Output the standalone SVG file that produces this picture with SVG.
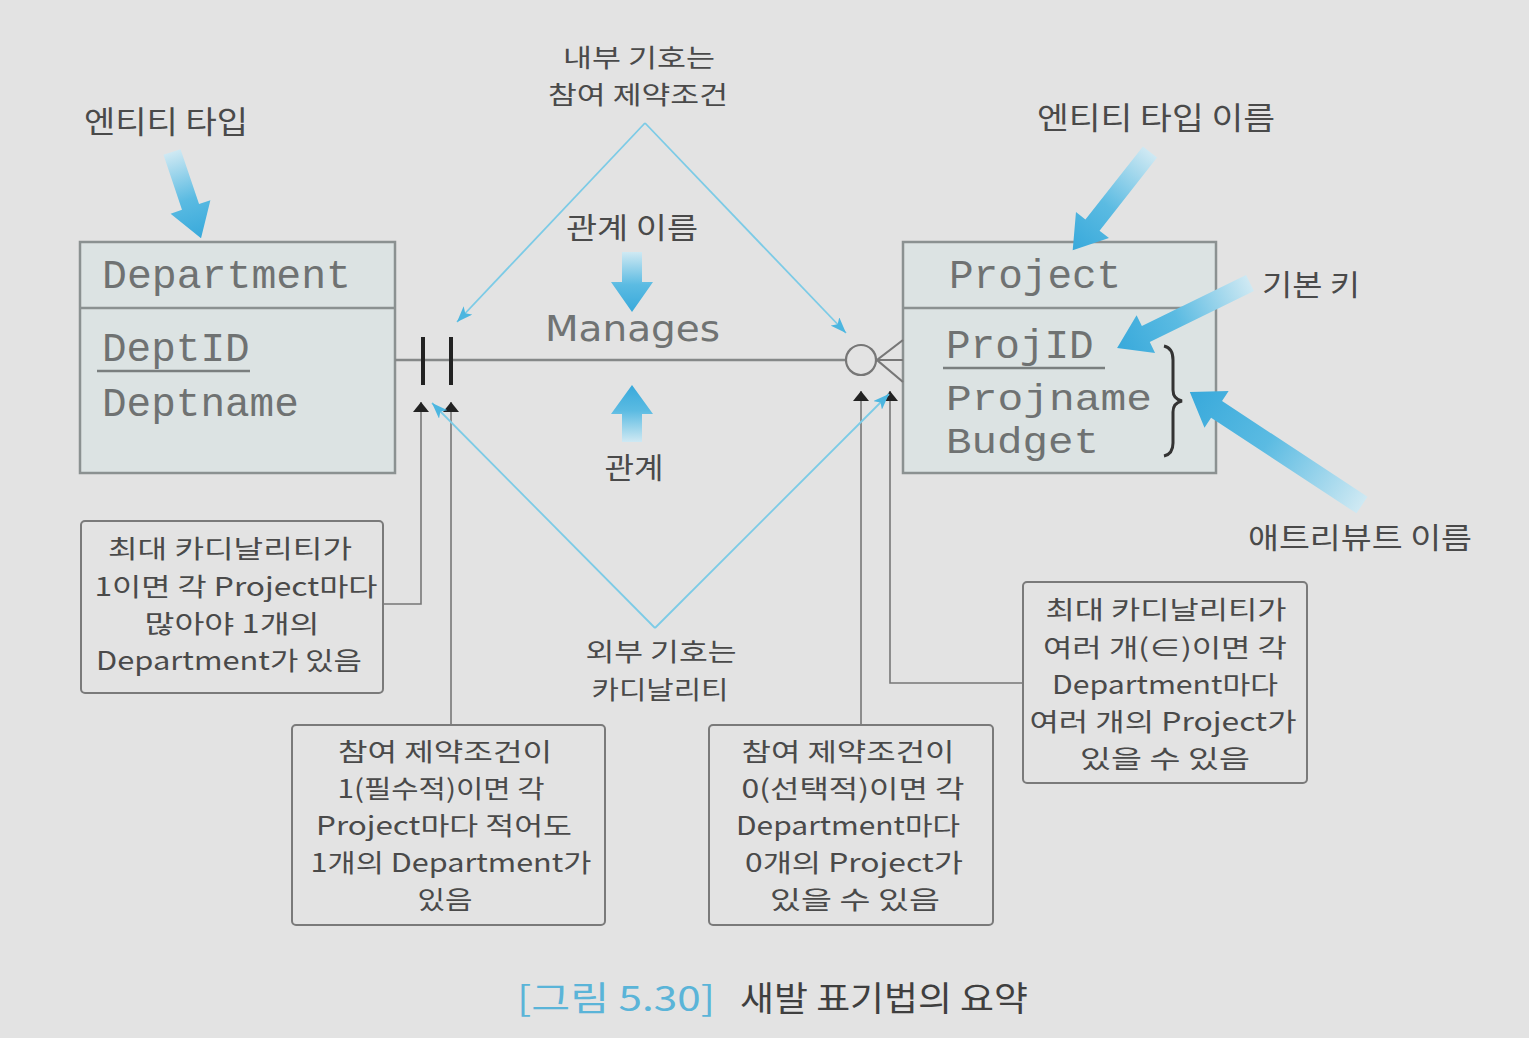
<svg xmlns="http://www.w3.org/2000/svg" width="1529" height="1038" viewBox="0 0 1529 1038">
<style>
.ko{font-family:"Noto Sans CJK KR","Noto Sans",sans-serif;fill:#4a4a4a;font-size:29px;text-anchor:middle}
.nt{font-size:25.5px}
.mono{font-family:"Liberation Mono","DejaVu Sans Mono",monospace;fill:#6f7272;font-size:41px}
.ent{fill:#dce3e3;stroke:#8b9191;stroke-width:2.5}
.note{fill:none;stroke:#7a7a7a;stroke-width:2}
.conn{fill:none;stroke:#777;stroke-width:1.6}
.blue{fill:none;stroke:#7ccbe6;stroke-width:1.8}
.big{fill:url(#g)}
</style>
<defs>
<linearGradient id="g" x1="0" y1="0" x2="1" y2="0">
<stop offset="0" stop-color="#cfe9f3"/>
<stop offset="0.55" stop-color="#5bbbe2"/>
<stop offset="1" stop-color="#38a9db"/>
</linearGradient>
<marker id="ab" viewBox="0 0 10 16" refX="10" refY="8" markerWidth="10" markerHeight="16" markerUnits="userSpaceOnUse" orient="auto">
<path d="M0,0 L10,8 L0,16 Z" fill="#222"/>
</marker>
<marker id="bl" viewBox="0 0 16 12" refX="16" refY="6" markerWidth="16" markerHeight="12" markerUnits="userSpaceOnUse" orient="auto">
<path d="M0,0 L16,6 L0,12 L4,6 Z" fill="#4cb6e0"/>
</marker>
</defs>
<rect x="0" y="0" width="1529" height="1038" fill="#e3e3e3"/>

<g id="department">
<rect class="ent" x="80" y="242" width="315" height="231"/>
<line x1="80" y1="308" x2="395" y2="308" stroke="#8b9191" stroke-width="2.5"/>
<text class="mono" x="102" y="288" textLength="249" lengthAdjust="spacingAndGlyphs">Department</text>
<text class="mono" x="102" y="361">DeptID</text>
<line x1="97" y1="371" x2="250" y2="371" stroke="#7a7f7f" stroke-width="2.5"/>
<text class="mono" x="102" y="416">Deptname</text>
</g>

<g id="project">
<rect class="ent" x="903" y="242" width="313" height="231"/>
<line x1="903" y1="308" x2="1216" y2="308" stroke="#8b9191" stroke-width="2.5"/>
<text class="mono" x="949" y="288">Project</text>
<text class="mono" x="946" y="358">ProjID</text>
<line x1="943" y1="368" x2="1105" y2="368" stroke="#7a7f7f" stroke-width="2.5"/>
<text class="mono" x="946" y="410" textLength="206" lengthAdjust="spacingAndGlyphs" style="font-size:37px">Projname</text>
<text class="mono" x="946" y="453" textLength="153" lengthAdjust="spacingAndGlyphs" style="font-size:37px">Budget</text>
<path d="M1164,346 Q1173,348 1173,360 L1173,390 Q1173,399 1182,401 Q1173,403 1173,412 L1173,443 Q1173,454 1164,456" fill="none" stroke="#333" stroke-width="3"/>
</g>

<g id="relationship">
<text x="545" y="341" textLength="175" lengthAdjust="spacingAndGlyphs" style="font-family:'DejaVu Sans',sans-serif;font-size:36px;fill:#707373">Manages</text>
</g>

<g id="connectors">
<line x1="395" y1="360" x2="846" y2="360" stroke="#858888" stroke-width="2.5"/>
<line x1="423" y1="337" x2="423" y2="385" stroke="#222" stroke-width="4"/>
<line x1="451" y1="337" x2="451" y2="385" stroke="#222" stroke-width="4"/>
<circle cx="861" cy="360" r="15" fill="none" stroke="#777" stroke-width="2.2"/>
<path d="M903,340 L877,360 L903,382 M877,360 L903,360" fill="none" stroke="#777" stroke-width="2.2"/>

<path class="conn" d="M383,604 L421,604 L421,402" marker-end="url(#ab)"/>
<path class="conn" d="M451,725 L451,402" marker-end="url(#ab)"/>
<path class="conn" d="M861,725 L861,391" marker-end="url(#ab)"/>
<path class="conn" d="M1023,683 L890,683 L890,391" marker-end="url(#ab)"/>

<path class="blue" d="M645,123 L457,322" marker-end="url(#bl)"/>
<path class="blue" d="M645,123 L846,333" marker-end="url(#bl)"/>
<path class="blue" d="M655,628 L432,403" marker-end="url(#bl)"/>
<path class="blue" d="M655,628 L889,394" marker-end="url(#bl)"/>

<polygon class="big" transform="translate(172,152) rotate(71.4)" points="0,-9 58,-9 58,-21 91,0 58,21 58,9 0,9"/>
<polygon class="big" transform="translate(1150,152) rotate(128.2)" points="0,-9 93,-9 93,-21 125,0 93,21 93,9 0,9"/>
<polygon class="big" transform="translate(1250,283) rotate(153.9)" points="0,-9 116,-9 116,-21 148,0 116,21 116,9 0,9"/>
<polygon class="big" transform="translate(1362,505) rotate(213.3)" points="0,-10 174,-10 174,-22 206,0 174,22 174,10 0,10"/>
<polygon class="big" transform="translate(632,252) rotate(90)" points="0,-10 30,-10 30,-21 60,0 30,21 30,10 0,10"/>
<polygon class="big" transform="translate(632,442) rotate(-90)" points="0,-10 28,-10 28,-21 57,0 28,21 28,10 0,10"/>
</g>

<g id="labels">
<text class="ko" x="166" y="133" textLength="164" lengthAdjust="spacingAndGlyphs" style="font-size:31px">엔티티 타입</text>
<text class="ko nt" x="639" y="67" textLength="152" lengthAdjust="spacingAndGlyphs">내부 기호는</text>
<text class="ko nt" x="638" y="104" textLength="180" lengthAdjust="spacingAndGlyphs">참여 제약조건</text>
<text class="ko" x="1156" y="129" textLength="238" lengthAdjust="spacingAndGlyphs" style="font-size:31px">엔티티 타입 이름</text>
<text class="ko" x="632" y="239" textLength="132" lengthAdjust="spacingAndGlyphs">관계 이름</text>
<text class="ko" x="634" y="479" textLength="59" lengthAdjust="spacingAndGlyphs">관계</text>
<text class="ko" x="1311" y="296" textLength="98" lengthAdjust="spacingAndGlyphs">기본 키</text>
<text class="ko" x="1360" y="549" textLength="224" lengthAdjust="spacingAndGlyphs">애트리뷰트 이름</text>
<text class="ko nt" x="661" y="661" textLength="151" lengthAdjust="spacingAndGlyphs">외부 기호는</text>
<text class="ko nt" x="660" y="699" textLength="137" lengthAdjust="spacingAndGlyphs">카디날리티</text>
</g>

<g id="note1">
<rect class="note" x="81" y="521" width="302" height="172" rx="4"/>
<text class="ko nt" x="230" y="558" textLength="244" lengthAdjust="spacingAndGlyphs">최대 카디날리티가</text>
<text class="ko nt" x="236" y="596" textLength="283" lengthAdjust="spacingAndGlyphs">1이면 각 Project마다</text>
<text class="ko nt" x="232" y="633" textLength="175" lengthAdjust="spacingAndGlyphs">많아야 1개의</text>
<text class="ko nt" x="229" y="670" textLength="266" lengthAdjust="spacingAndGlyphs">Department가 있음</text>
</g>

<g id="note2">
<rect class="note" x="292" y="725" width="313" height="200" rx="4"/>
<text class="ko nt" x="445" y="761" textLength="214" lengthAdjust="spacingAndGlyphs">참여 제약조건이</text>
<text class="ko nt" x="441" y="798" textLength="207" lengthAdjust="spacingAndGlyphs">1(필수적)이면 각</text>
<text class="ko nt" x="444" y="835" textLength="256" lengthAdjust="spacingAndGlyphs">Project마다 적어도</text>
<text class="ko nt" x="451" y="872" textLength="281" lengthAdjust="spacingAndGlyphs">1개의 Department가</text>
<text class="ko nt" x="445" y="909" textLength="55" lengthAdjust="spacingAndGlyphs">있음</text>
</g>

<g id="note3">
<rect class="note" x="709" y="725" width="284" height="200" rx="4"/>
<text class="ko nt" x="848" y="761" textLength="213" lengthAdjust="spacingAndGlyphs">참여 제약조건이</text>
<text class="ko nt" x="853" y="798" textLength="223" lengthAdjust="spacingAndGlyphs">0(선택적)이면 각</text>
<text class="ko nt" x="848" y="835" textLength="224" lengthAdjust="spacingAndGlyphs">Department마다</text>
<text class="ko nt" x="854" y="872" textLength="218" lengthAdjust="spacingAndGlyphs">0개의 Project가</text>
<text class="ko nt" x="855" y="909" textLength="170" lengthAdjust="spacingAndGlyphs">있을 수 있음</text>
</g>

<g id="note4">
<rect class="note" x="1023" y="582" width="284" height="201" rx="4"/>
<text class="ko nt" x="1166" y="619" textLength="241" lengthAdjust="spacingAndGlyphs">최대 카디날리티가</text>
<text class="ko nt" x="1165" y="657" textLength="244" lengthAdjust="spacingAndGlyphs">여러 개(∈)이면 각</text>
<text class="ko nt" x="1165" y="694" textLength="226" lengthAdjust="spacingAndGlyphs">Department마다</text>
<text class="ko nt" x="1163" y="731" textLength="267" lengthAdjust="spacingAndGlyphs">여러 개의 Project가</text>
<text class="ko nt" x="1165" y="768" textLength="170" lengthAdjust="spacingAndGlyphs">있을 수 있음</text>
</g>

<g id="caption">
<text class="ko" x="616" y="1011" textLength="198" lengthAdjust="spacingAndGlyphs" style="font-size:34px;fill:#5ab4d8">[그림 5.30]</text>
<text class="ko" x="884" y="1011" textLength="288" lengthAdjust="spacingAndGlyphs" style="font-size:34px;fill:#3f3f3f">새발 표기법의 요약</text>
</g>
</svg>
